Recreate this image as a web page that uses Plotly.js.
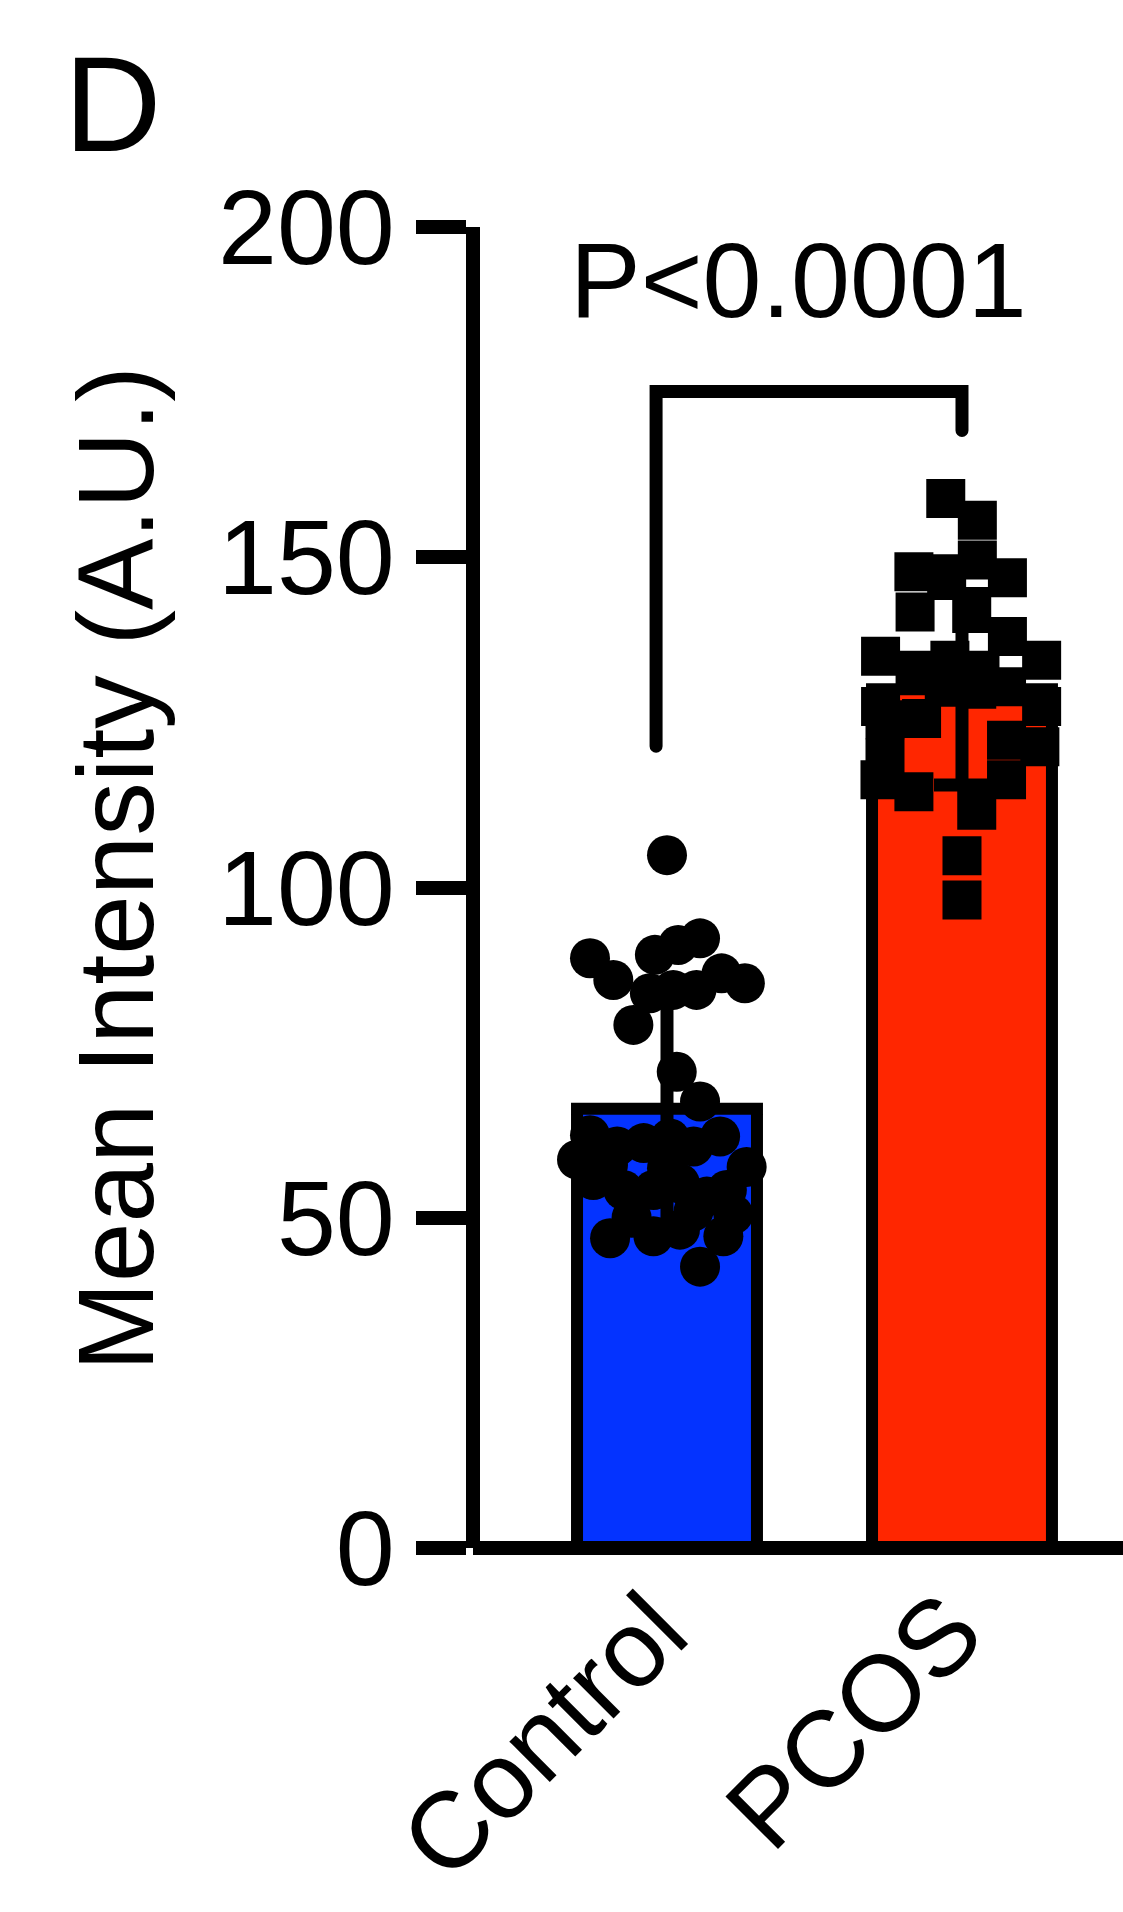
<!DOCTYPE html>
<html>
<head>
<meta charset="utf-8">
<script src="https://cdn.plot.ly/plotly-3.0.1.min.js"></script>
<style>
  html, body { margin: 0; padding: 0; background: #ffffff; }
  #chart { width: 1123px; height: 1912px; }
  .shapelayer path { stroke-linecap: round; }
</style>
</head>
<body>
<div id="chart"></div>
<script>
// Groups and summary statistics
const groups = ['Control', 'PCOS'];
const groupMeans = [66.5, 130.0];
const groupSD = [17.5, 14.5];
const barColors = ['#0433FF', '#FF2600'];

// Individual measurements (horizontal spread within each column, value)
const controlJitter = [0.00, -0.261, -0.182, -0.041, 0.038, 0.112, -0.058, 0.021, 0.100, 0.185,
  0.264, -0.114, 0.033, 0.112, -0.261, -0.305, -0.169, -0.079, 0.010, 0.090,
  0.180, 0.270, -0.250, -0.148, -0.046, 0.044, 0.135, 0.203, -0.193, -0.046,
  0.044, 0.191, 0.112, -0.200, 0.000, 0.225, -0.120, 0.090];
const controlValues = [104.9, 89.3, 86.0, 89.8, 91.3, 92.3, 84.0, 84.5, 84.5, 87.0,
  85.5, 79.2, 72.1, 67.6, 62.5, 58.8, 60.8, 61.3, 62.0, 60.8,
  62.3, 57.7, 55.7, 54.2, 54.2, 55.2, 53.2, 54.2, 46.9, 47.2,
  48.2, 47.2, 42.6, 58.0, 57.5, 50.5, 50.0, 51.0];

const pcosJitter = [-0.055, 0.052, 0.052, -0.163, -0.052, 0.154, -0.159, 0.033, 0.154, -0.276,
  0.270, -0.041, 0.061, -0.159, 0.151, -0.060, 0.050, -0.276, 0.270, -0.137,
  -0.261, 0.151, 0.264, -0.261, 0.151, -0.278, -0.163, 0.050, 0.000, 0.000];
const pcosValues = [158.9, 155.6, 149.6, 147.8, 147.5, 146.9, 141.7, 141.5, 138.0, 135.0,
  134.4, 134.4, 132.9, 132.9, 130.4, 130.3, 130.0, 127.4, 127.4, 125.6,
  125.4, 122.3, 121.3, 119.6, 116.3, 116.3, 114.5, 111.7, 104.8, 98.1];

// Axis ticks
const yTicks = [0, 50, 100, 150, 200];

// Significance bracket: leg positions (group index offsets), top height, leg ends
const bracketX = [-0.037, 1.0];
const bracketTop = 175.1;
const bracketLegEnds = [121.4, 169.2];
const pLabel = 'P<0.0001';

const FONT = 'Arial, "Liberation Sans", Helvetica, sans-serif';
const groupX = groups.map((g, i) => i);

const bars = {
  type: 'bar',
  x: groupX,
  y: groupMeans,
  width: 0.61,
  marker: { color: barColors, line: { color: '#000000', width: 12 } },
  error_y: { type: 'data', array: groupSD, visible: true, color: '#000000', thickness: 13, width: 28 },
  hoverinfo: 'skip',
  showlegend: false
};

const controlPts = {
  type: 'scatter', mode: 'markers',
  x: controlJitter.map(d => groupX[0] + d),
  y: controlValues,
  marker: { symbol: 'circle', size: 40, color: '#000000', line: { width: 0 } },
  cliponaxis: false,
  hoverinfo: 'skip', showlegend: false
};

const pcosPts = {
  type: 'scatter', mode: 'markers',
  x: pcosJitter.map(d => groupX[1] + d),
  y: pcosValues,
  marker: { symbol: 'square', size: 39, color: '#000000', line: { width: 0 } },
  cliponaxis: false,
  hoverinfo: 'skip', showlegend: false
};

const layout = {
  width: 1123,
  height: 1912,
  margin: { l: 473, r: 0, t: 227, b: 364, pad: 0 },
  paper_bgcolor: '#ffffff',
  plot_bgcolor: '#ffffff',
  font: { family: FONT, color: '#000000', size: 106 },
  bargap: 0,
  xaxis: {
    range: [-0.6576, 1.5458],
    anchor: 'free', position: 0,
    showline: true, linecolor: '#000000', linewidth: 14,
    showgrid: false, zeroline: false,
    ticks: '',
    tickmode: 'array', tickvals: groupX, ticktext: groups,
    tickangle: -45,
    ticklabelstandoff: -30,
    ticklabelshift: -12,
    tickfont: { family: FONT, size: 108, color: '#000000' },
    fixedrange: true
  },
  yaxis: {
    range: [0, 200],
    anchor: 'free', position: 0,
    showline: true, linecolor: '#000000', linewidth: 14,
    showgrid: false, zeroline: false,
    ticks: 'outside', ticklen: 50, tickwidth: 14, tickcolor: '#000000',
    tickmode: 'array', tickvals: yTicks, ticktext: yTicks.map(String),
    tickfont: { family: FONT, size: 106, color: '#000000' },
    fixedrange: true
  },
  shapes: [{
    type: 'path', xref: 'x', yref: 'y',
    path: 'M ' + bracketX[0] + ',' + bracketLegEnds[0] +
          ' L ' + bracketX[0] + ',' + bracketTop +
          ' L ' + bracketX[1] + ',' + bracketTop +
          ' L ' + bracketX[1] + ',' + bracketLegEnds[1],
    line: { color: '#000000', width: 13 },
    layer: 'above'
  }],
  annotations: [
    {
      text: pLabel, xref: 'x', yref: 'y', x: 0.446, y: 192,
      xanchor: 'center', yanchor: 'middle', showarrow: false,
      font: { family: FONT, size: 106, color: '#000000' }
    },
    {
      text: 'Mean Intensity (A.U.)', xref: 'paper', yref: 'paper',
      x: -0.549, y: 0.514, textangle: -90,
      xanchor: 'center', yanchor: 'middle', showarrow: false,
      font: { family: FONT, size: 107, color: '#000000' }
    },
    {
      text: 'D', xref: 'paper', yref: 'paper',
      x: -0.5538, y: 1.093,
      xanchor: 'center', yanchor: 'middle', showarrow: false,
      font: { family: FONT, size: 135, color: '#000000' }
    }
  ]
};

Plotly.newPlot('chart', [bars, controlPts, pcosPts], layout, { displayModeBar: false, staticPlot: true });
</script>
</body>
</html>
